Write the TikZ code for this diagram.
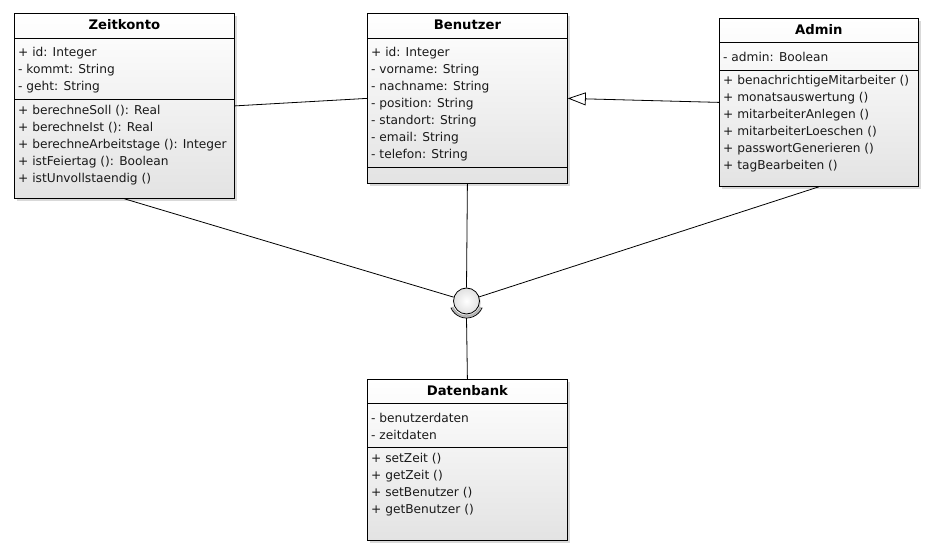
\documentclass[tikz,border=0pt]{standalone}
\usepackage{fontspec}
\setmainfont{DejaVu Sans}
\usetikzlibrary{positioning,calc,shadows,arrows.meta}

\tikzset{
  classbox/.style={
    draw, rectangle, inner sep=0pt, line width=0.8pt,
    top color=white, bottom color=black!11,
    drop shadow={shadow xshift=2.5pt, shadow yshift=-2.5pt, opacity=.3}},
  classname/.style={font=\bfseries\fontsize{13.2}{15}\selectfont},
  member/.style={anchor=west, inner sep=0pt, text=black!90,
    font=\fontsize{12.2}{14}\selectfont},
  sepline/.style={line width=0.8pt},
  link/.style={line width=0.8pt}
}

\begin{document}
\begin{tikzpicture}[x=1pt,y=1pt]
\useasboundingbox (0,0) rectangle (933,554);

% Zeitkonto
\node[classbox, anchor=north west, minimum width=220pt, minimum height=185pt]
  (zeit) at (14,541) {};
\node[classname] (zeitname) at ($(zeit.north)+(0,-12)$) {Zeitkonto};
\draw[sepline] ($(zeit.north west)+(0,-25)$) -- ($(zeit.north east)+(0,-25)$);
\draw[sepline] ($(zeit.north west)+(0,-86)$) -- ($(zeit.north east)+(0,-86)$);
\foreach \txt [count=\i] in {{+ id: Integer},{- kommt: String},{- geht: String}}
  \node[member] (zeitattr\i) at ($(zeit.north west)+(4,-40-17*\i+17)$) {\txt};
\foreach \txt [count=\i] in {{+ berechneSoll (): Real},{+ berechneIst (): Real},
    {+ berechneArbeitstage (): Integer},{+ istFeiertag (): Boolean},
    {+ istUnvollstaendig ()}}
  \node[member] (zeitop\i) at ($(zeit.north west)+(4,-98-17*\i+17)$) {\txt};

% Benutzer
\node[classbox, anchor=north west, minimum width=200pt, minimum height=170pt]
  (benutzer) at (367,541) {};
\node[classname] (benutzername) at ($(benutzer.north)+(0,-12)$) {Benutzer};
\draw[sepline] ($(benutzer.north west)+(0,-25)$) -- ($(benutzer.north east)+(0,-25)$);
\draw[sepline] ($(benutzer.north west)+(0,-154)$) -- ($(benutzer.north east)+(0,-154)$);
\foreach \txt [count=\i] in {{+ id: Integer},{- vorname: String},
    {- nachname: String},{- position: String},{- standort: String},
    {- email: String},{- telefon: String}}
  \node[member] (benutzerattr\i) at ($(benutzer.north west)+(4,-40-17*\i+17)$) {\txt};

% Admin
\node[classbox, anchor=north west, minimum width=199pt, minimum height=168pt]
  (admin) at (719,536) {};
\node[classname] (adminname) at ($(admin.north)+(0,-11.5)$) {Admin};
\draw[sepline] ($(admin.north west)+(0,-24)$) -- ($(admin.north east)+(0,-24)$);
\draw[sepline] ($(admin.north west)+(0,-52)$) -- ($(admin.north east)+(0,-52)$);
\node[member] (adminattr1) at ($(admin.north west)+(4,-39)$) {- admin: Boolean};
\foreach \txt [count=\i] in {{+ benachrichtigeMitarbeiter ()},
    {+ monatsauswertung ()},{+ mitarbeiterAnlegen ()},
    {+ mitarbeiterLoeschen ()},{+ passwortGenerieren ()},
    {+ tagBearbeiten ()}}
  \node[member] (adminop\i) at ($(admin.north west)+(4,-63-17*\i+17)$) {\txt};

% Datenbank
\node[classbox, anchor=north west, minimum width=200pt, minimum height=161pt]
  (dbank) at (367,175) {};
\node[classname] (dbankname) at ($(dbank.north)+(0,-11.5)$) {Datenbank};
\draw[sepline] ($(dbank.north west)+(0,-24)$) -- ($(dbank.north east)+(0,-24)$);
\draw[sepline] ($(dbank.north west)+(0,-68)$) -- ($(dbank.north east)+(0,-68)$);
\foreach \txt [count=\i] in {{- benutzerdaten},{- zeitdaten}}
  \node[member] (dbankattr\i) at ($(dbank.north west)+(4,-39-17*\i+17)$) {\txt};
\foreach \txt [count=\i] in {{+ setZeit ()},{+ getZeit ()},
    {+ setBenutzer ()},{+ getBenutzer ()}}
  \node[member] (dbankop\i) at ($(dbank.north west)+(4,-80-17*\i+17)$) {\txt};

% interface
\node[circle, draw, line width=0.8pt, minimum size=26pt, inner sep=0pt,
  inner color=white, outer color=black!12,
  drop shadow={shadow xshift=1.5pt, shadow yshift=-1.5pt, opacity=.25}]
  (iface) at (466.5,253) {};
\draw[black!30, line width=2pt]
  ($(iface.center)+(203:15.3)$) arc[start angle=203, end angle=337, radius=15.3];
\draw[link]
  ($(iface.center)+(203:17)$) arc[start angle=203, end angle=337, radius=17];
\coordinate (socket) at ($(iface.center)+(0,-17)$);

% connectors
\draw[link] (zeit.east) -- (benutzer.west);
\draw[link, -{Triangle[open, length=18pt, width=13pt, line width=0.8pt]}]
  (admin.west) -- (benutzer.east);
\draw[link] (zeit.south) -- (iface);
\draw[link] (benutzer.south) -- (iface.north);
\draw[link] (admin.south) -- (iface);
\draw[link] (dbank.north) -- (socket);
\end{tikzpicture}
\end{document}
